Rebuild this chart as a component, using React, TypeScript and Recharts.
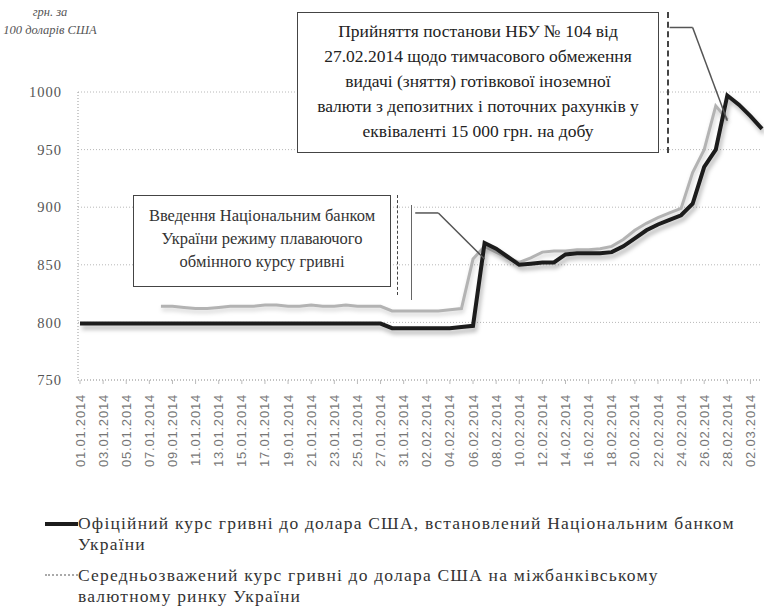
import { LineChart, Line, XAxis, YAxis, CartesianGrid, ReferenceLine } from "recharts";

// dates as they stand on the category axis (29.01 and 30.01 are not in the source picture)
const dates = [
  "01.01.2014", "02.01.2014", "03.01.2014", "04.01.2014", "05.01.2014", "06.01.2014", "07.01.2014",
  "08.01.2014", "09.01.2014", "10.01.2014", "11.01.2014", "12.01.2014", "13.01.2014", "14.01.2014",
  "15.01.2014", "16.01.2014", "17.01.2014", "18.01.2014", "19.01.2014", "20.01.2014", "21.01.2014",
  "22.01.2014", "23.01.2014", "24.01.2014", "25.01.2014", "26.01.2014", "27.01.2014", "28.01.2014",
  "31.01.2014", "01.02.2014", "02.02.2014", "03.02.2014", "04.02.2014", "05.02.2014", "06.02.2014",
  "07.02.2014", "08.02.2014", "09.02.2014", "10.02.2014", "11.02.2014", "12.02.2014", "13.02.2014",
  "14.02.2014", "15.02.2014", "16.02.2014", "17.02.2014", "18.02.2014", "19.02.2014", "20.02.2014",
  "21.02.2014", "22.02.2014", "23.02.2014", "24.02.2014", "25.02.2014", "26.02.2014", "27.02.2014",
  "28.02.2014", "01.03.2014", "02.03.2014", "03.03.2014",
];

// official NBU rate, UAH per 100 USD
const official = [
  799, 799, 799, 799, 799, 799, 799,
  799, 799, 799, 799, 799, 799, 799,
  799, 799, 799, 799, 799, 799, 799,
  799, 799, 799, 799, 799, 799, 795,
  795, 795, 795, 795, 795, 796, 797,
  869, 864, 857, 850, 851, 852, 852,
  859, 860, 860, 860, 861, 866, 873,
  880, 885, 889, 893, 903, 935, 950,
  997, 989, 979, 968,
];

// weighted average interbank rate
const interbank = [
  null, null, null, null, null, null, null,
  814, 814, 813, 812, 812, 813, 814,
  814, 814, 815, 815, 814, 814, 815,
  814, 814, 815, 814, 814, 814, 810,
  810, 810, 810, 810, 811, 812, 855,
  866, 861, 856, 852, 856, 861, 862,
  862, 863, 863, 864, 866, 872, 880,
  886, 891, 895, 899, 930, 950, 988,
  976, null, null, null,
];

const yTicks = [750, 800, 850, 900, 950, 1000];

const data = dates.map((d, i) => ({ date: d, official: official[i], interbank: interbank[i] }));

const serif = "'Liberation Serif', 'DejaVu Serif', 'Noto Serif', serif";

const DateTick = ({ x, y, payload }: any) => (
  <text
    x={x}
    y={y + 8}
    transform={`rotate(-90 ${x} ${y + 8})`}
    textAnchor="end"
    dy="0.35em"
    fontSize={13}
    letterSpacing={0.8}
    fontFamily="'Liberation Sans', Arial, sans-serif"
    fill="#777"
  >
    {payload.value}
  </text>
);

export default function App() {
  return (
    <div style={{ position: "relative", width: 764, height: 610, background: "#fff", overflow: "hidden", fontFamily: serif }}>
      <style>{`
        body { margin: 0; }
        .official-line { filter: drop-shadow(2px 4px 2px rgba(0,0,0,0.28)); }
        .interbank-line { filter: drop-shadow(1px 3px 2px rgba(0,0,0,0.18)); }
      `}</style>

      {/* axis unit */}
      <div style={{ position: "absolute", left: 0, top: 3, width: 100, textAlign: "center", fontStyle: "italic", fontSize: 12.5, lineHeight: "18px", color: "#555" }}>
        грн. за<br />100 доларів США
      </div>

      <LineChart width={764} height={475} data={data} margin={{ top: 92, right: 2, left: 8, bottom: 0 }}>
        <CartesianGrid vertical={false} stroke="#b8b8b8" strokeDasharray="1 2" />
        <XAxis
          dataKey="date"
          interval={1}
          height={95}
          tick={<DateTick />}
          axisLine={{ stroke: "#aaa", strokeDasharray: "1 2" }}
          tickLine={{ stroke: "#bbb" }}
          tickSize={4}
          padding={{ left: 2, right: 0 }}
        />
        <YAxis
          domain={[750, 1000]}
          ticks={yTicks}
          width={70}
          tickLine={false}
          tickSize={6}
          tickMargin={10}
          axisLine={{ stroke: "#999", strokeDasharray: "1 2" }}
          tick={{ fontSize: 14.5, fill: "#555", fontFamily: serif, letterSpacing: 1 }}
        />
        <Line
          dataKey="interbank"
          className="interbank-line"
          stroke="#b3b3b3"
          strokeWidth={3}
          dot={false}
          connectNulls={false}
          isAnimationActive={false}
        />
        <Line
          dataKey="official"
          className="official-line"
          stroke="#1c1c1c"
          strokeWidth={4}
          dot={false}
          isAnimationActive={false}
        />
        {/* callout leaders */}
        <ReferenceLine
          ifOverflow="visible"
          segment={[{ x: "01.02.2014", y: 895 }, { x: "03.02.2014", y: 895 }]}
          stroke="#555"
          strokeWidth={1.5}
        />
        <ReferenceLine
          ifOverflow="visible"
          segment={[{ x: "03.02.2014", y: 895 }, { x: "07.02.2014", y: 855 }]}
          stroke="#555"
          strokeWidth={1.5}
        />
        <ReferenceLine
          ifOverflow="visible"
          segment={[{ x: "23.02.2014", y: 1056 }, { x: "25.02.2014", y: 1056 }]}
          stroke="#555"
          strokeWidth={1.5}
        />
        <ReferenceLine
          ifOverflow="visible"
          segment={[{ x: "25.02.2014", y: 1056 }, { x: "28.02.2014", y: 975 }]}
          stroke="#555"
          strokeWidth={1.5}
        />
      </LineChart>

      {/* callout: floating regime */}
      <div style={{ position: "absolute", left: 133, top: 195, width: 258, height: 92, border: "1.5px solid #444", background: "#fff", boxSizing: "border-box", textAlign: "center", fontSize: 16.5, lineHeight: "23px", color: "#333", paddingTop: 8 }}>
        Введення Національним банком<br />України режиму плаваючого<br />обмінного курсу гривні
      </div>
      <div style={{ position: "absolute", left: 397, top: 195, width: 0, height: 100, borderLeft: "1.5px dashed #444" }} />
      <div style={{ position: "absolute", left: 411, top: 205, width: 0, height: 95, borderLeft: "1.5px solid #666" }} />

      {/* callout: NBU resolution 104 */}
      <div style={{ position: "absolute", left: 297, top: 12, width: 362, height: 141, border: "1.5px solid #444", background: "#fff", boxSizing: "border-box", textAlign: "center", fontSize: 17.5, lineHeight: "25px", color: "#222", paddingTop: 6 }}>
        Прийняття постанови НБУ № 104 від<br />
        27.02.2014 щодо тимчасового обмеження<br />
        видачі (зняття) готівкової іноземної<br />
        валюти з депозитних і поточних рахунків у<br />
        еквіваленті 15 000 грн. на добу
      </div>
      <div style={{ position: "absolute", left: 667, top: 12, width: 0, height: 141, borderLeft: "2px dashed #444" }} />

      {/* legend */}
      <div style={{ position: "absolute", left: 45, top: 513, width: 719, fontSize: 17.5, lineHeight: "21px", color: "#333" }}>
        <div style={{ display: "flex", alignItems: "flex-start" }}>
          <span style={{ display: "inline-block", width: 33, height: 4, background: "#1c1c1c", marginTop: 9, flex: "none" }} />
          <span style={{ letterSpacing: 1.2 }}>
            Офіційний курс гривні до долара США, встановлений Національним банком<br />України
          </span>
        </div>
        <div style={{ display: "flex", alignItems: "flex-start", marginTop: 10 }}>
          <span style={{ display: "inline-block", width: 33, height: 0, borderTop: "2px dotted #aaa", marginTop: 9, flex: "none" }} />
          <span style={{ letterSpacing: 1.2 }}>
            Середньозважений курс гривні до долара США на міжбанківському<br />валютному ринку України
          </span>
        </div>
      </div>
    </div>
  );
}
